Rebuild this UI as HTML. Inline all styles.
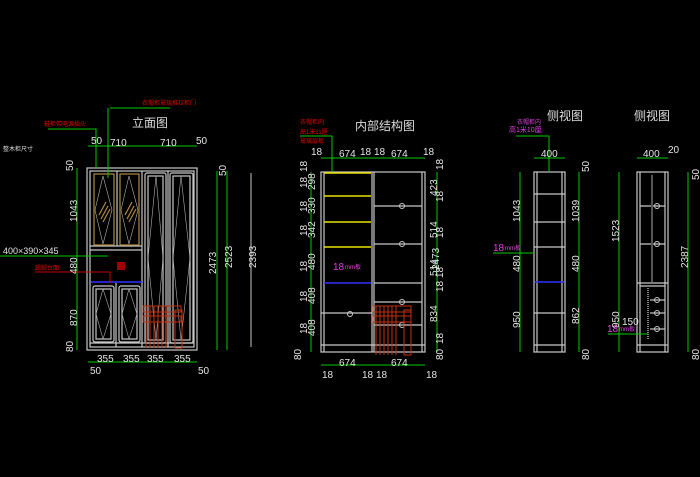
<!DOCTYPE html>
<html><head><meta charset="utf-8"><style>
html,body{margin:0;padding:0;background:#000;width:700px;height:477px;overflow:hidden}
svg{display:block}
text{font-family:"Liberation Sans","Noto Sans CJK SC",sans-serif}
.g{stroke:#00c800;stroke-width:1;fill:none}
.w{stroke:#c8c8c8;stroke-width:1.2;fill:none}
.d{fill:#e6e6e6;font-size:10px}
.t{fill:#dcdcdc;font-size:12px}
.r{fill:#e00000;font-size:6px}
.m{fill:#e040e0;font-size:10px}
</style></head><body>
<svg width="700" height="477" viewBox="0 0 700 477" xmlns="http://www.w3.org/2000/svg">
<rect width="700" height="477" fill="#000"/>

<!-- ===== 立面图 ===== -->
<text class="t" x="132" y="127">立面图</text>
<g class="w">
<rect x="87" y="168" width="110" height="182"/>
<rect x="90" y="171" width="104" height="176"/>
<line x1="90" y1="246" x2="142" y2="246"/>
<line x1="90" y1="250" x2="142" y2="250"/>
<line x1="142" y1="171" x2="142" y2="347"/>
<line x1="117" y1="171" x2="117" y2="246"/>
<line x1="168" y1="171" x2="168" y2="347"/>
<line x1="116" y1="283" x2="116" y2="347"/>
<line x1="90" y1="343" x2="194" y2="343"/>
<rect x="145" y="173" width="21" height="170" rx="2"/>
<rect x="148" y="176" width="15" height="164"/>
<rect x="170" y="173" width="23" height="170" rx="2"/>
<rect x="173" y="176" width="17" height="164"/>
<rect x="93" y="286" width="21" height="56" rx="2"/>
<rect x="96" y="289" width="15" height="50"/>
<rect x="119" y="286" width="21" height="56" rx="2"/>
<rect x="122" y="289" width="15" height="50"/>
</g>
<g stroke="#b0b0b0" stroke-width="0.6" fill="none">
<polyline points="156,176 148,258 156,340 163,258 156,176"/>
<polyline points="181,176 173,258 181,340 190,258 181,176"/>
<polyline points="103,289 96,314 103,339 111,314 103,289"/>
<polyline points="129,289 122,314 129,339 137,314 129,289"/>
<polyline points="103,176 95,210 103,244 112,210 103,176"/>
<polyline points="129,176 121,210 129,244 138,210 129,176"/>
</g>
<g stroke="#b08a40" stroke-width="1.2" fill="none">
<rect x="94" y="174" width="20" height="71"/>
<rect x="120" y="174" width="19" height="71"/>
<line x1="99" y1="215" x2="106" y2="202"/><line x1="101" y1="219" x2="108" y2="206"/><line x1="103" y1="222" x2="110" y2="209"/>
<line x1="125" y1="215" x2="132" y2="202"/><line x1="127" y1="219" x2="134" y2="206"/><line x1="129" y1="222" x2="136" y2="209"/>
</g>
<line x1="91" y1="282" x2="142" y2="282" stroke="#3030ff" stroke-width="1.5"/>
<rect x="117" y="262" width="8" height="8" fill="#a00000"/>
<g stroke="#c03010" stroke-width="1" fill="none">
<rect x="143" y="306" width="38" height="6"/><rect x="143" y="316" width="38" height="6"/>
<line x1="146" y1="306" x2="146" y2="348"/><line x1="150" y1="306" x2="150" y2="348"/><line x1="154" y1="306" x2="154" y2="348"/><line x1="158" y1="306" x2="158" y2="348"/><line x1="162" y1="306" x2="162" y2="348"/><line x1="166" y1="306" x2="166" y2="348"/>
<rect x="175" y="310" width="7" height="38"/>
</g>
<!-- dims -->
<g class="g">
<line x1="88" y1="146" x2="197" y2="146"/>
<line x1="77" y1="168" x2="77" y2="350"/>
<line x1="217" y1="171" x2="217" y2="350"/>
<line x1="227" y1="171" x2="227" y2="350"/>
<line x1="251" y1="173" x2="251" y2="347" stroke="#c8c8c8"/>
<line x1="88" y1="362" x2="197" y2="362"/>
<polyline points="48,129 96,129 96,168"/>
<polyline points="110,108 170,108"/>
<line x1="108" y1="108" x2="108" y2="178"/>
<line x1="0" y1="256" x2="108" y2="256"/>
<line x1="35" y1="272" x2="110" y2="272" stroke="#c00000"/>
<line x1="110" y1="272" x2="110" y2="283" stroke="#c00000"/>
</g>
<text class="d" x="91" y="144">50</text><text class="d" x="110" y="146">710</text><text class="d" x="160" y="146">710</text><text class="d" x="196" y="144">50</text>
<text class="d" x="97" y="362">355</text><text class="d" x="123" y="362">355</text><text class="d" x="147" y="362">355</text><text class="d" x="174" y="362">355</text>
<text class="d" x="90" y="374">50</text><text class="d" x="198" y="374">50</text>
<text class="d" transform="translate(73,171) rotate(-90)">50</text>
<text class="d" transform="translate(77,222) rotate(-90)">1043</text>
<text class="d" transform="translate(77,274) rotate(-90)">480</text>
<text class="d" transform="translate(77,326) rotate(-90)">870</text>
<text class="d" transform="translate(73,352) rotate(-90)">80</text>
<text class="d" transform="translate(226,176) rotate(-90)">50</text>
<text class="d" transform="translate(216,274) rotate(-90)">2473</text>
<text class="d" transform="translate(232,268) rotate(-90)">2523</text>
<text class="d" transform="translate(256,268) rotate(-90)">2393</text>
<text class="r" x="44" y="126">鞋柜带电源插头</text>
<text class="r" x="142" y="105">衣帽柜玻璃推拉柜门</text>
<text x="3" y="151" fill="#dcdcdc" font-size="6">整木柜尺寸</text>
<text x="3" y="254" fill="#e6e6e6" font-size="9">400×390×345</text>
<text class="r" x="35" y="270">踢脚台面</text>

<!-- ===== 内部结构图 ===== -->
<text class="t" x="355" y="130">内部结构图</text>
<g class="w">
<rect x="321" y="172" width="104" height="180"/>
<line x1="324" y1="172" x2="324" y2="352"/>
<line x1="422" y1="172" x2="422" y2="352"/>
<line x1="372" y1="172" x2="372" y2="352"/><line x1="374" y1="172" x2="374" y2="352"/>
<line x1="321" y1="313" x2="372" y2="313"/>
<line x1="321" y1="345" x2="425" y2="345"/>
<line x1="374" y1="206" x2="422" y2="206"/>
<line x1="374" y1="244" x2="422" y2="244"/>
<line x1="374" y1="283" x2="422" y2="283"/>
<line x1="374" y1="302" x2="422" y2="302"/>
<line x1="374" y1="325" x2="422" y2="325"/>
</g>
<g fill="none" stroke="#c8c8c8"><circle cx="402" cy="206" r="2.5"/><circle cx="402" cy="244" r="2.5"/><circle cx="402" cy="302" r="2.5"/><circle cx="402" cy="325" r="2.5"/><circle cx="350" cy="314" r="2.5"/></g>
<g stroke="#e8e000" stroke-width="1.5"><line x1="324" y1="173" x2="371" y2="173"/><line x1="324" y1="196" x2="371" y2="196"/><line x1="324" y1="222" x2="371" y2="222"/><line x1="324" y1="247" x2="371" y2="247"/></g>
<line x1="324" y1="283" x2="371" y2="283" stroke="#3030ff" stroke-width="1.5"/>
<g stroke="#c03010" stroke-width="1" fill="none">
<rect x="373" y="306" width="38" height="6"/><rect x="373" y="316" width="38" height="6"/>
<line x1="376" y1="306" x2="376" y2="355"/><line x1="380" y1="306" x2="380" y2="355"/><line x1="384" y1="306" x2="384" y2="355"/><line x1="388" y1="306" x2="388" y2="355"/><line x1="392" y1="306" x2="392" y2="355"/><line x1="396" y1="306" x2="396" y2="355"/>
<rect x="404" y="310" width="7" height="45"/>
</g>
<text class="m" x="333" y="270">18</text><text x="345" y="269" fill="#e040e0" font-size="6">mm板</text>
<g class="g">
<line x1="321" y1="158" x2="425" y2="158"/>
<polyline points="300,136 332,136 332,172"/>
<line x1="311" y1="172" x2="311" y2="352"/>
<line x1="437" y1="172" x2="437" y2="352"/>
<line x1="321" y1="365" x2="425" y2="365"/>
</g>
<text class="r" x="300" y="124">衣帽柜内</text><text class="r" x="300" y="134">高1米11厘</text><text class="r" x="300" y="143">玻璃层板</text>
<text class="d" x="311" y="155">18</text><text class="d" x="339" y="157">674</text><text class="d" x="360" y="155">18</text><text class="d" x="374" y="155">18</text><text class="d" x="391" y="157">674</text><text class="d" x="423" y="155">18</text>
<text class="d" x="339" y="366">674</text><text class="d" x="391" y="366">674</text>
<text class="d" x="322" y="378">18</text><text class="d" x="362" y="378">18</text><text class="d" x="376" y="378">18</text><text class="d" x="426" y="378">18</text>
<g class="d">
<text transform="translate(307,172) rotate(-90)">18</text>
<text transform="translate(307,188) rotate(-90)">18</text><text transform="translate(315,190) rotate(-90)">298</text>
<text transform="translate(307,212) rotate(-90)">18</text><text transform="translate(315,214) rotate(-90)">330</text>
<text transform="translate(307,236) rotate(-90)">18</text><text transform="translate(315,238) rotate(-90)">342</text>
<text transform="translate(307,272) rotate(-90)">18</text><text transform="translate(315,270) rotate(-90)">480</text>
<text transform="translate(307,302) rotate(-90)">18</text><text transform="translate(315,304) rotate(-90)">408</text>
<text transform="translate(307,334) rotate(-90)">18</text><text transform="translate(315,336) rotate(-90)">408</text>
<text transform="translate(301,360) rotate(-90)">80</text>
<text transform="translate(443,170) rotate(-90)">18</text><text transform="translate(437,196) rotate(-90)">423</text>
<text transform="translate(443,202) rotate(-90)">18</text><text transform="translate(437,238) rotate(-90)">514</text>
<text transform="translate(443,238) rotate(-90)">18</text><text transform="translate(437,276) rotate(-90)">514</text>
<text transform="translate(443,278) rotate(-90)">18</text><text transform="translate(443,292) rotate(-90)">18</text>
<text transform="translate(437,322) rotate(-90)">834</text>
<text transform="translate(443,344) rotate(-90)">18</text>
<text transform="translate(443,360) rotate(-90)">80</text>
<text transform="translate(439,270) rotate(-90)">2473</text>
</g>

<!-- ===== 侧视图 1 ===== -->
<text class="t" x="547" y="120">侧视图</text>
<g class="w">
<rect x="534" y="172" width="31" height="180"/>
<line x1="537" y1="172" x2="537" y2="352"/><line x1="562" y1="172" x2="562" y2="352"/>
<line x1="534" y1="194" x2="565" y2="194"/><line x1="534" y1="222" x2="565" y2="222"/><line x1="534" y1="247" x2="565" y2="247"/>
<line x1="534" y1="313" x2="565" y2="313"/><line x1="534" y1="345" x2="565" y2="345"/>
</g>
<line x1="535" y1="282" x2="564" y2="282" stroke="#3030ff" stroke-width="1.5"/>
<g class="g">
<line x1="534" y1="158" x2="565" y2="158"/>
<polyline points="516,136 549,136 549,172"/>
<line x1="520" y1="172" x2="520" y2="352"/>
<line x1="579" y1="172" x2="579" y2="352"/>
<line x1="493" y1="253" x2="534" y2="253"/>
</g>
<text x="517" y="124" fill="#e040e0" font-size="6">衣帽柜内</text><text x="509" y="132" fill="#e040e0" font-size="7">高1米10厘</text>
<text class="d" x="541" y="157">400</text>
<text class="m" x="493" y="251">18</text><text x="505" y="250" fill="#e040e0" font-size="6">mm板</text>
<g class="d">
<text transform="translate(520,222) rotate(-90)">1043</text>
<text transform="translate(520,272) rotate(-90)">480</text>
<text transform="translate(520,328) rotate(-90)">950</text>
<text transform="translate(579,222) rotate(-90)">1039</text>
<text transform="translate(579,272) rotate(-90)">480</text>
<text transform="translate(579,324) rotate(-90)">862</text>
<text transform="translate(589,172) rotate(-90)">50</text>
<text transform="translate(589,360) rotate(-90)">80</text>
</g>

<!-- ===== 侧视图 2 ===== -->
<text class="t" x="634" y="120">侧视图</text>
<g class="w">
<rect x="637" y="172" width="31" height="180"/>
<line x1="640" y1="172" x2="640" y2="352"/><line x1="665" y1="172" x2="665" y2="352"/>
<line x1="640" y1="206" x2="665" y2="206"/><line x1="640" y1="244" x2="665" y2="244"/>
<line x1="637" y1="283" x2="668" y2="283"/><line x1="640" y1="286" x2="665" y2="286"/>
<line x1="650" y1="300" x2="665" y2="300"/><line x1="650" y1="313" x2="665" y2="313"/><line x1="650" y1="329" x2="665" y2="329"/>
<line x1="637" y1="345" x2="668" y2="345"/>
</g>
<line x1="652" y1="175" x2="652" y2="282" stroke="#555" stroke-width="2"/>
<line x1="648" y1="288" x2="648" y2="340" stroke="#888" stroke-width="2" stroke-dasharray="1,1"/>
<g fill="none" stroke="#c8c8c8"><circle cx="657" cy="206" r="2.5"/><circle cx="657" cy="244" r="2.5"/><circle cx="657" cy="300" r="2.5"/><circle cx="657" cy="313" r="2.5"/><circle cx="657" cy="329" r="2.5"/></g>
<g class="g">
<line x1="637" y1="158" x2="668" y2="158"/>
<line x1="619" y1="172" x2="619" y2="352"/>
<line x1="688" y1="172" x2="688" y2="352"/>
<line x1="608" y1="334" x2="648" y2="334"/>
</g>
<text class="d" x="643" y="157">400</text><text class="d" x="668" y="153">20</text>
<text class="d" x="622" y="325">150</text>
<text class="m" x="607" y="332">18</text><text x="619" y="331" fill="#e040e0" font-size="6">mm板</text>
<g class="d">
<text transform="translate(619,242) rotate(-90)">1523</text>
<text transform="translate(619,328) rotate(-90)">950</text>
<text transform="translate(688,268) rotate(-90)">2387</text>
<text transform="translate(699,180) rotate(-90)">50</text>
<text transform="translate(699,360) rotate(-90)">80</text>
</g>
</svg>
</body></html>
